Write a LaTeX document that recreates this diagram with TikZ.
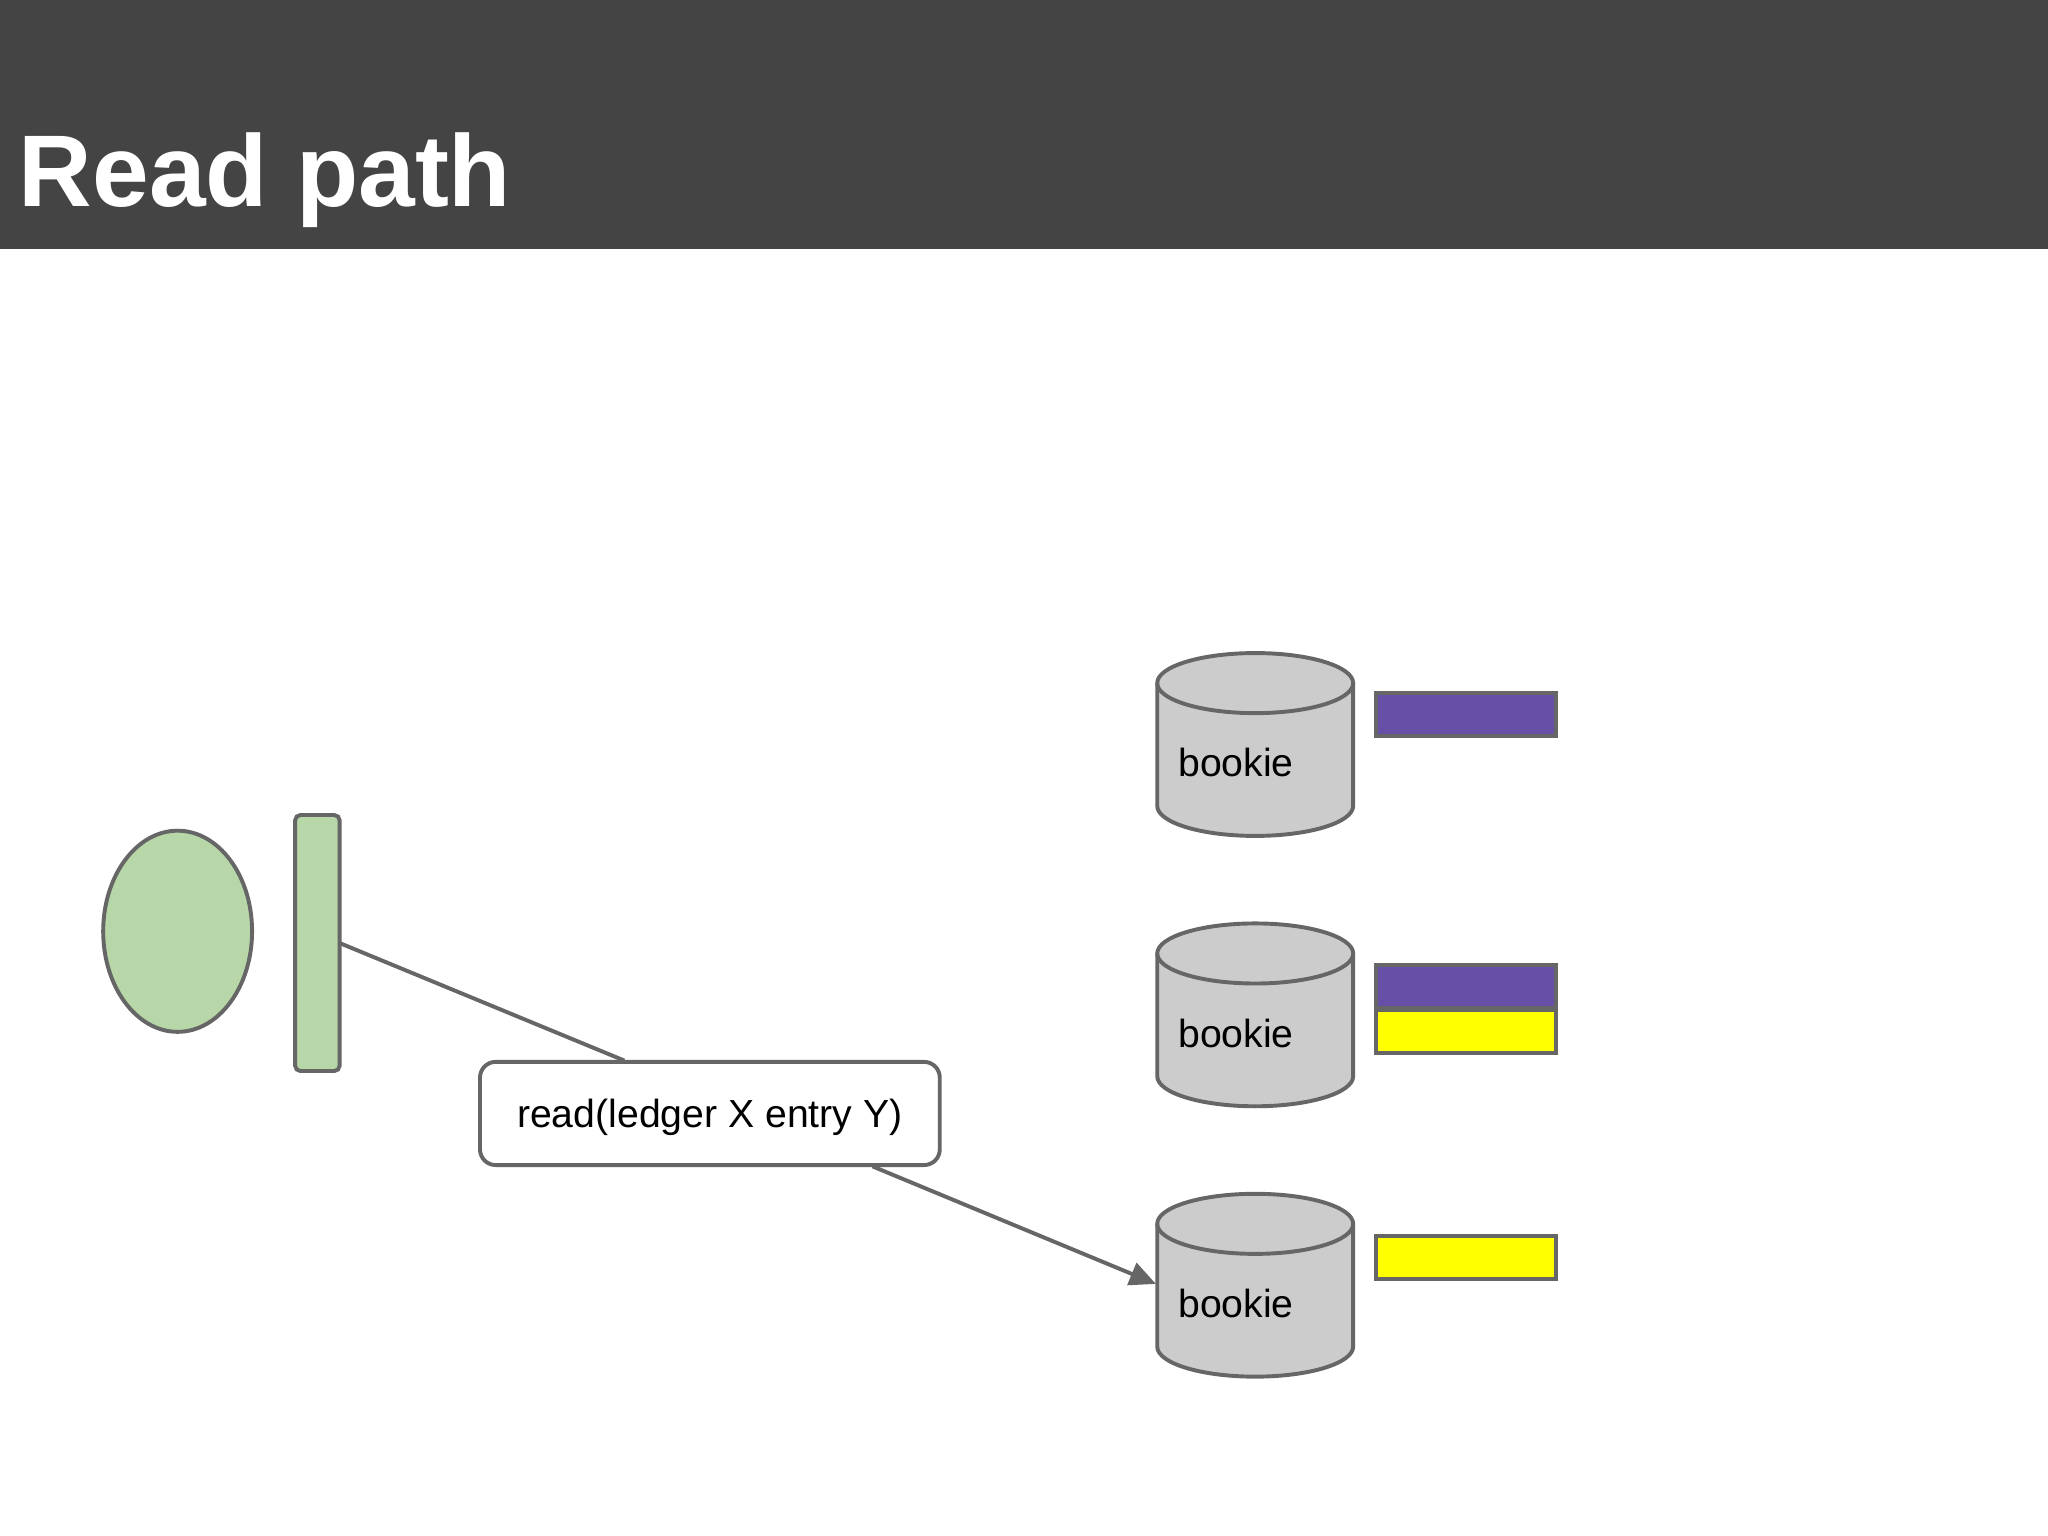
\documentclass[tikz,border=0pt]{standalone}
\usepackage{fontspec}
\setmainfont{Liberation Sans}
\usetikzlibrary{arrows.meta,shapes.geometric}
\definecolor{hdr}{HTML}{444444}
\definecolor{grn}{HTML}{B7D7A8}
\definecolor{edge}{HTML}{666666}
\definecolor{cyl}{HTML}{CCCCCC}
\definecolor{purp}{HTML}{674EA7}
\definecolor{yel}{HTML}{FFFF00}
\tikzset{
  ln/.style={draw=edge,line width=1.5pt},
  blk/.style={ln,rectangle,inner sep=0pt,minimum width=69pt,minimum height=16.5pt},
  lbl/.style={font=\fontsize{15}{18}\selectfont}
}
\newcommand{\cylinder}[2]{% name, top y
  \path[fill=cyl] (886,#2) -- (886,#2+94) arc[start angle=180,end angle=0,x radius=75,y radius=23] -- (1036,#2) arc[start angle=0,end angle=-180,x radius=75,y radius=23];
  \draw[ln] (886,#2) -- (886,#2+94) arc[start angle=180,end angle=0,x radius=75,y radius=23] -- (1036,#2);
  \draw[ln] (961,#2) ellipse[x radius=75,y radius=23];
  \node[lbl,anchor=west] (#1) at (895,#2+61) {bookie};
}
\begin{document}
\begin{tikzpicture}[x=0.5pt,y=-0.5pt]
\useasboundingbox (0,0) rectangle (1568,1176);
\fill[white] (0,0) rectangle (1568,1176);
\fill[hdr] (0,0) rectangle (1568,191);
\node[anchor=base west,text=white,font=\fontsize{39}{46}\selectfont\bfseries,inner sep=0pt] (title) at (14,158) {Read path};
\node[ellipse,ln,fill=grn,minimum width=57pt,minimum height=77pt,inner sep=0pt] (client) at (136,713) {};
\node[ln,fill=grn,rounded corners=2pt,minimum width=17pt,minimum height=98pt,inner sep=0pt] (bar) at (243,722) {};
\node[ln,fill=white,rounded corners=6pt,minimum width=176pt,minimum height=39.5pt,lbl,text depth=-1pt] (req) at (543.5,852.5) {read(ledger X entry Y)};
\cylinder{b1}{523}
\cylinder{b2}{730}
\cylinder{b3}{937}
\node[blk,fill=purp,anchor=north west] (p1) at (1052,529) {};
\node[blk,fill=purp,anchor=north west] (p2) at (1052,737) {};
\node[blk,fill=yel,anchor=north west] (y2) at (1052,772) {};
\node[blk,fill=yel,anchor=north west] (y3) at (1052,945) {};
\coordinate (a1) at (260,722);
\coordinate (a2) at (478,812);
\coordinate (a3) at (668,893);
\coordinate (a4) at (885,983);
\draw[ln] (a1) -- (a2);
\draw[ln,-{Triangle[length=10pt,width=9pt]}] (a3) -- (a4);
\end{tikzpicture}
\end{document}
